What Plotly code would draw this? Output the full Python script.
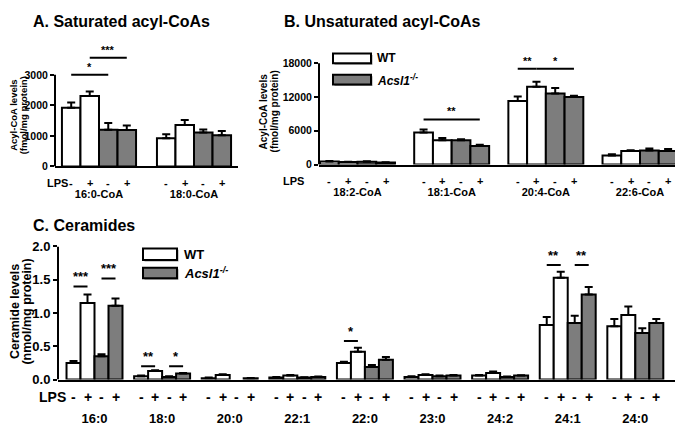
import plotly.graph_objects as go

# ---------------- data ----------------
A_cats = ["16:0-CoA", "18:0-CoA"]
A_wt_minus = [1920, 920]
A_wt_minus_err = [170, 130]
A_wt_plus = [2310, 1360]
A_wt_plus_err = [140, 160]
A_ko_minus = [1200, 1110]
A_ko_minus_err = [220, 100]
A_ko_plus = [1190, 1020]
A_ko_plus_err = [150, 140]
A_ticks = [0, 1000, 2000, 3000]
A_sig = [(0, 0, 2, 3000, "*"), (0, 1, 3, 3560, "***")]

B_cats = ["18:2-CoA", "18:1-CoA", "20:4-CoA", "22:6-CoA"]
B_wt_minus = [550, 5700, 11300, 1600]
B_wt_minus_err = [80, 500, 800, 200]
B_wt_plus = [450, 4300, 13800, 2400]
B_wt_plus_err = [60, 400, 900, 150]
B_ko_minus = [500, 4300, 12600, 2500]
B_ko_minus_err = [70, 200, 1000, 350]
B_ko_plus = [350, 3300, 12000, 2400]
B_ko_plus_err = [50, 200, 200, 350]
B_ticks = [0, 6000, 12000, 18000]
B_sig = [(1, 0, 3, 8000, "**"), (2, 0, 1, 17000, "**"), (2, 1, 3, 17000, "*")]

C_cats = ["16:0", "18:0", "20:0", "22:1", "22:0", "23:0", "24:2", "24:1", "24:0"]
C_wt_minus = [0.25, 0.05, 0.02, 0.03, 0.25, 0.04, 0.06, 0.82, 0.80]
C_wt_minus_err = [0.03, 0.01, 0.01, 0.01, 0.02, 0.01, 0.01, 0.12, 0.11]
C_wt_plus = [1.15, 0.13, 0.07, 0.06, 0.42, 0.07, 0.10, 1.53, 0.97]
C_wt_plus_err = [0.13, 0.01, 0.01, 0.01, 0.06, 0.01, 0.02, 0.09, 0.13]
C_ko_minus = [0.35, 0.04, None, 0.03, 0.19, 0.05, 0.04, 0.85, 0.70]
C_ko_minus_err = [0.03, 0.01, 0, 0.005, 0.03, 0.01, 0.005, 0.11, 0.07]
C_ko_plus = [1.11, 0.09, 0.02, 0.04, 0.30, 0.06, 0.06, 1.28, 0.85]
C_ko_plus_err = [0.11, 0.01, 0.005, 0.005, 0.04, 0.01, 0.005, 0.11, 0.06]
C_ticks = [0.0, 0.5, 1.0, 1.5, 2.0]
C_tick_text = ["0.0", "0.5", "1.0", "1.5", "2.0"]
C_sig = [(0, 0, 1, 1.40, "***"), (0, 2, 3, 1.52, "***"), (1, 0, 1, 0.20, "**"),
         (1, 2, 3, 0.20, "*"), (4, 0, 1, 0.58, "*"), (7, 0, 1, 1.72, "**"),
         (7, 2, 3, 1.72, "**")]

LPS_labels = ["-", "+", "-", "+"]
WT_name = "WT"
KO_name = "<i>Acsl1</i><sup><i>-/-</i></sup>"

# ---------------- styling ----------------
OFF = 8                      # default body margin of the html page
W, H = 683 - OFF, 431 - OFF  # figure size so the page fits the window
FONT = "Liberation Sans, Arial, sans-serif"
WHITE = "#ffffff"
GREY = "#7d7d7d"
fills = [WHITE, WHITE, GREY, GREY]


def PX(px):  # window pixel -> paper fraction
    return (px - OFF) / W


def PY(py):
    return 1 - (py - OFF) / H


fig = go.Figure()
shapes = []
annots = []


def panel(xa, ya, cats, series, w, lps_py, lps_px, lps_size, sig, star_size, axis_top):
    for k, (vals, errs) in enumerate(series):
        fig.add_trace(go.Bar(
            x=cats, y=vals, width=w, offset=(k - 2) * w,
            marker=dict(color=fills[k], line=dict(color="black", width=2)),
            error_y=dict(type="data", array=errs, arrayminus=[0] * len(errs),
                         symmetric=False, color="black", thickness=2, width=4),
            xaxis=xa, yaxis=ya, showlegend=False,
        ))
    # LPS +/- labels under each bar
    for i in range(len(cats)):
        for k in range(4):
            annots.append(dict(x=i + (k - 1.5) * w, y=PY(lps_py), xref=xa, yref="paper",
                               text=LPS_labels[k], showarrow=False, yanchor="middle",
                               font=dict(family=FONT, size=lps_size, color="black", weight="bold")))
    annots.append(dict(x=PX(lps_px), y=PY(lps_py), xref="paper", yref="paper", text="LPS",
                       showarrow=False, yanchor="middle",
                       font=dict(family=FONT, size=lps_size, color="black", weight="bold")))
    # significance bars and stars
    for (i, k0, k1, yv, txt) in sig:
        x0 = i + (k0 - 1.5) * w
        x1 = i + (k1 - 1.5) * w
        shapes.append(dict(type="line", xref=xa, yref=ya, x0=x0, x1=x1, y0=yv, y1=yv,
                           line=dict(color="black", width=2)))
        annots.append(dict(x=(x0 + x1) / 2, y=yv, xref=xa, yref=ya, text=txt,
                           showarrow=False, yanchor="bottom", yshift=0,
                           font=dict(family=FONT, size=star_size, color="black", weight="bold")))
    # y axis line (only up to the top tick)
    shapes.append(dict(type="line", xref=xa + " domain", yref=ya, x0=0, x1=0,
                       y0=0, y1=axis_top, line=dict(color="black", width=2)))


panel("x", "y", A_cats,
      [(A_wt_minus, A_wt_minus_err), (A_wt_plus, A_wt_plus_err),
       (A_ko_minus, A_ko_minus_err), (A_ko_plus, A_ko_plus_err)],
      0.195, 182, 45, 11, A_sig, 11, 3000)
panel("x2", "y2", B_cats,
      [(B_wt_minus, B_wt_minus_err), (B_wt_plus, B_wt_plus_err),
       (B_ko_minus, B_ko_minus_err), (B_ko_plus, B_ko_plus_err)],
      0.199, 180, 293, 11, B_sig, 11, 18000)
panel("x3", "y3", C_cats,
      [(C_wt_minus, C_wt_minus_err), (C_wt_plus, C_wt_plus_err),
       (C_ko_minus, C_ko_minus_err), (C_ko_plus, C_ko_plus_err)],
      0.207, 404, 36.5, 14, C_sig, 13, 2.0)


def xaxis(dom, rng, size, standoff, anchor):
    return dict(domain=dom, range=rng, type="category", anchor=anchor,
                showline=True, linecolor="black", linewidth=2, ticks="",
                showgrid=False, zeroline=False, ticklabelstandoff=standoff,
                tickfont=dict(family=FONT, size=size, color="black", weight="bold"))


def yaxis(dom, rng, tickvals, ticktext, size, anchor):
    return dict(domain=dom, range=rng, anchor=anchor, showline=False,
                tickvals=tickvals, ticktext=ticktext, ticks="outside", ticklen=4,
                tickwidth=2, tickcolor="black", showgrid=False, zeroline=False,
                tickfont=dict(family=FONT, size=size, color="black", weight="bold"))


fig.update_layout(
    width=W, height=H, margin=dict(l=0, r=0, t=0, b=0),
    paper_bgcolor="white", plot_bgcolor="white", barmode="overlay",
    font=dict(family=FONT, color="black"),
    xaxis=xaxis([PX(55), PX(238)], [-0.463, 1.463], 11, 16, "y"),
    yaxis=yaxis([PY(165), PY(44.7)], [0, 3800], A_ticks, [str(v) for v in A_ticks], 10.5, "x"),
    xaxis2=xaxis([PX(319), PX(682)], [-0.409, 3.446], 11, 16, "y2"),
    yaxis2=yaxis([PY(163), PY(46.3)], [0, 20000], B_ticks, [str(v) for v in B_ticks], 10.5, "x2"),
    xaxis3=xaxis([PX(58), PX(675)], [-0.54, 8.587], 13, 26, "y3"),
    yaxis3=yaxis([PY(386), PY(248)], [0, 2.0], C_ticks, C_tick_text, 13, "x3"),
)

# panel titles
for txt, x, y, s in [("A. Saturated acyl-CoAs", 31, 15, 16),
                     ("B. Unsaturated acyl-CoAs", 282, 15, 16),
                     ("C. Ceramides", 31, 226, 16)]:
    annots.append(dict(x=PX(x), y=PY(y), xref="paper", yref="paper", text=txt,
                       showarrow=False, xanchor="left", yanchor="middle",
                       font=dict(family=FONT, size=s, color="black", weight="bold")))

# y-axis titles (one annotation per line)
for txt, x, y, s in [("Acyl-CoA levels", 13.5, 112, 9.5), ("(fmol/mg protein)", 23, 112, 9.5),
                     ("Acyl-CoA levels", 263, 108, 10), ("(fmol/mg protein)", 274, 108, 10),
                     ("Ceramide levels", 15, 316, 12.5), ("(nmol/mg protein)", 27.5, 316, 12.5)]:
    annots.append(dict(x=PX(x), y=PY(y), xref="paper", yref="paper", text=txt,
                       showarrow=False, textangle=-90, xanchor="center", yanchor="middle",
                       font=dict(family=FONT, size=s, color="black", weight="bold")))

# legends (box swatches with a soft shadow)
for (bx0, bx1, rows, tx, s) in [(333, 371, [(48, 58), (70, 80)], 375, 12),
                                (143, 177, [(250, 262), (270, 281)], 182, 13)]:
    for (r, name, fill) in zip(rows, [WT_name, KO_name], [WHITE, GREY]):
        shapes.append(dict(type="rect", xref="paper", yref="paper",
                           x0=PX(bx0 + 1.5), x1=PX(bx1 + 1.5), y0=PY(r[1] + 1.5), y1=PY(r[0] + 1.5),
                           line=dict(width=0), fillcolor="#9a9a9a"))
        shapes.append(dict(type="rect", xref="paper", yref="paper",
                           x0=PX(bx0), x1=PX(bx1), y0=PY(r[1]), y1=PY(r[0]),
                           line=dict(color="black", width=2), fillcolor=fill))
        annots.append(dict(x=PX(tx), y=PY((r[0] + r[1]) / 2), xref="paper", yref="paper",
                           text=name, showarrow=False, xanchor="left", yanchor="middle",
                           font=dict(family=FONT, size=s, color="black", weight="bold")))

fig.update_layout(shapes=shapes, annotations=annots)
fig.write_html("out.html")
